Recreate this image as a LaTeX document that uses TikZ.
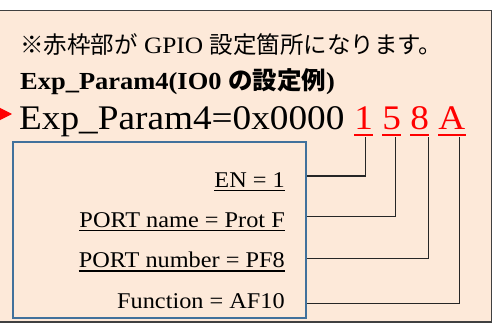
\documentclass[tikz,border=0pt]{standalone}
\usepackage{fontspec}
\setmainfont{Liberation Serif}[FakeStretch=1.08]
\newfontfamily\jp{Noto Sans CJK JP}
\usepackage{xcolor}
\usetikzlibrary{positioning}
\usetikzlibrary{calc}
\usetikzlibrary{arrows.meta}
\definecolor{peach}{HTML}{FDE9D9}
\definecolor{frameblue}{HTML}{41719C}

\begin{document}
\begin{tikzpicture}[x=1pt, y=-1pt]
\tikzset{
frame/.style={draw=black!75, line width=1.2pt, fill=peach},
setbox/.style={draw=frameblue, line width=2pt, inner sep=0pt,
    minimum width=293pt, minimum height=176pt},
digit/.style={text=red, inner sep=0pt, text height=24pt, text depth=5.5pt,
    font=\fontsize{34.5}{36}\selectfont},
uline/.style={draw=red, line width=1.8pt},
field/.style={inner sep=0pt, text height=16pt, text depth=3pt,
    font=\fontsize{22.5}{24}\selectfont},
fline/.style={draw=black, line width=1.3pt},
link/.style={draw=black!85, line width=1.1pt},
pointer/.style={draw=red, line width=1pt, -{Triangle[length=12pt, width=12pt]}}
 }
\useasboundingbox (0,0) rectangle (494,326);
\draw[frame] (-5,10.5) rectangle (491.3,322);
\node[anchor=base west, inner sep=0pt, font=\fontsize{23.5}{26}\selectfont] (note) at (20,53.5) {{\jp ※赤枠部が} GPIO {\jp 設定箇所になります。}};
\node[anchor=base west, inner sep=0pt, font=\fontsize{24.5}{26}\selectfont\bfseries] (title) at (20,89.5) {Exp\_Param4(IO0 {\jp の設定例})};
\node[anchor=base west, inner sep=0pt, font=\fontsize{34.5}{36}\selectfont] (param) at (19,129) {Exp\_Param4=0x0000};
\node[digit, base right=9.5pt of param] (d1) {1};
\node[digit, base right=9pt of d1] (d5) {5};
\node[digit, base right=9pt of d5] (d8) {8};
\node[digit, base right=9pt of d8] (dA) {A};
\foreach \n in {d1,d5,d8,dA}
    \draw[uline] (\n.south west) -- (\n.south east);

\coordinate (src) at (-15,114);
\coordinate (tip) at (12,114);
\draw[pointer] (src) -- (tip);

\node[setbox, anchor=north west] (box) at (12,141) {};
\node[field, anchor=base east] (en) at (285,187) {EN = 1};
\node[field, below left=21pt and 0pt of en.south east] (pname) {PORT name = Prot F};
\node[field, below left=21pt and 0pt of pname.south east] (pnum) {PORT number = PF8};
\node[field, below left=21pt and 0pt of pnum.south east] (func) {Function = AF10};
\foreach \n in {en,pname,pnum}
    \draw[fline] (\n.south west) -- (\n.south east);

\draw[link] ([xshift=1.5pt,yshift=-2.5pt]d1.south) |- ($(en.base -| box.east)+(0,11pt)$);
\draw[link] ([xshift=4pt,yshift=-2.5pt]d5.south) |- ($(pname.base -| box.east)+(0,11pt)$);
\draw[link] ([xshift=8.5pt,yshift=-2.5pt]d8.south) |- ($(pnum.base -| box.east)+(0,9pt)$);
\draw[link] ([xshift=7.5pt,yshift=-2.5pt]dA.south) |- ($(func.base -| box.east)+(0,5pt)$);
\end{tikzpicture}
\end{document}
